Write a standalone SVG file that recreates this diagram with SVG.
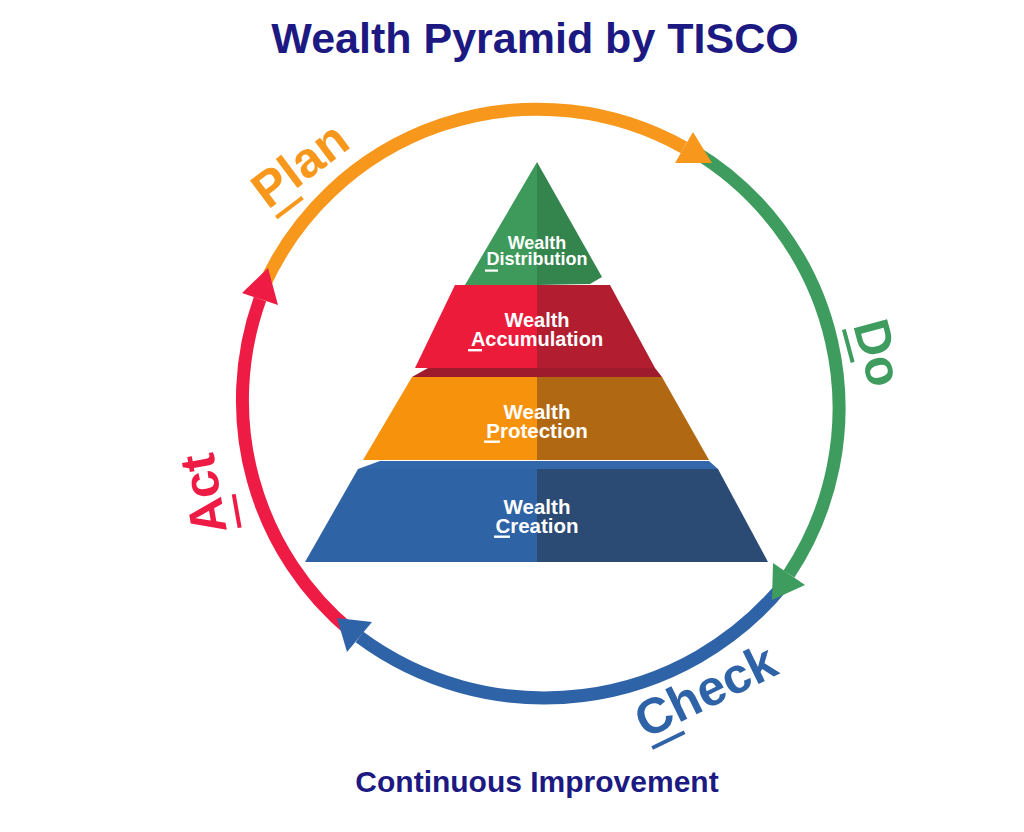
<svg xmlns="http://www.w3.org/2000/svg" width="1024" height="832" viewBox="0 0 1024 832">
<style>
.t{font-family:"Liberation Sans",Arial,Helvetica,sans-serif;font-weight:700}
.head{fill:#1c1a82;text-anchor:middle}
.tier{fill:#ffffff;text-anchor:middle}
.lbl{font-size:50px}
.arc{fill:none;stroke-width:13;stroke-linecap:butt}
.ul{fill:#ffffff}
</style>
<rect width="1024" height="832" fill="#ffffff"/>
<text id="title" class="t head" x="535" y="53" font-size="43">Wealth Pyramid by TISCO</text>
<text id="footer" class="t head" x="537" y="792" font-size="30">Continuous Improvement</text>

<g id="connectors">
  <path id="arc-plan" class="arc" stroke="#f7981d" d="M262,290 A300,300 0 0 1 684,147.5"/>
  <path id="arc-do" class="arc" stroke="#3d9c5e" d="M692,150 A300,300 0 0 1 789,574"/>
  <path id="arc-check" class="arc" stroke="#2f63a8" d="M785,583 A310,310 0 0 1 359.5,637"/>
  <path id="arc-act" class="arc" stroke="#ee1c45" d="M352,632 A300,300 0 0 1 260,299"/>
  <polygon id="head-plan" points="712,163 693,132 675,163" fill="#f7981d"/>
  <polygon id="head-do" points="772,600 773,563 805,585" fill="#3d9c5e"/>
  <polygon id="head-check" points="337,618 372,622 347,652" fill="#2f63a8"/>
  <polygon id="head-act" points="268,268 242,293 278,305" fill="#ee1c45"/>
</g>

<g id="tier-creation">
  <polygon points="358,469 380,461 709,461 718,469" fill="#3267a9"/>
  <polygon points="358,469 537,469 537,562 305,562" fill="#2e63a6"/>
  <polygon points="537,469 718,469 768,562 537,562" fill="#2b4a74"/>
  <text class="t tier" x="537" y="513.5" font-size="20.5">Wealth</text>
  <text class="t tier" x="537" y="532.5" font-size="20.5">Creation</text>
  <rect class="ul" x="494" y="535.5" width="16" height="2.4"/>
</g>

<g id="tier-protection">
  <polygon points="412,377 537,377 537,460 363,460" fill="#f7920c"/>
  <polygon points="537,377 662,377 709,460 537,460" fill="#b06812"/>
  <text class="t tier" x="537" y="419" font-size="20.5">Wealth</text>
  <text class="t tier" x="537" y="437.5" font-size="20.5">Protection</text>
  <rect class="ul" x="484" y="440.5" width="16" height="2.4"/>
</g>

<g id="tier-accumulation">
  <polygon points="412,377 428,368 655,368 662,377" fill="#9d1b2c"/>
  <polygon points="455,285 537,285 537,368 415,368" fill="#ec1b3a"/>
  <polygon points="537,285 610,285 655,368 537,368" fill="#b21d30"/>
  <text class="t tier" x="537" y="326.5" font-size="20">Wealth</text>
  <text class="t tier" x="537" y="345.5" font-size="20">Accumulation</text>
  <rect class="ul" x="468" y="349" width="14" height="2.4"/>
</g>

<g id="tier-distribution">
  <polygon points="537,162 465,285 537,285" fill="#3e9a5b"/>
  <polygon points="537,162 602,277 590,284 537,285" fill="#34844e"/>
  <text class="t tier" x="537" y="248.5" font-size="18">Wealth</text>
  <text class="t tier" x="537" y="265" font-size="18">Distribution</text>
  <rect class="ul" x="485" y="269.5" width="13" height="2.2"/>
</g>

<g id="label-plan" transform="translate(268,210) rotate(-37)">
  <text class="t lbl" x="0" y="0" fill="#f7981d">Plan</text>
  <rect x="2" y="9" width="33" height="4" fill="#f7981d"/>
</g>
<g id="label-do" transform="translate(853,325) rotate(75)">
  <text class="t lbl" x="0" y="0" fill="#3d9c5e">Do</text>
  <rect x="2" y="8" width="34" height="4" fill="#3d9c5e"/>
</g>
<g id="label-check" transform="translate(645.6,739) rotate(-26)">
  <text class="t lbl" x="0" y="0" fill="#2f63a8">Check</text>
  <rect x="2" y="9" width="36" height="4" fill="#2f63a8"/>
</g>
<g id="label-act" transform="translate(227,531) rotate(-100)">
  <text class="t lbl" x="0" y="0" font-size="48" fill="#ee1c45">Act</text>
  <rect x="1" y="11" width="34" height="4" fill="#ee1c45"/>
</g>
</svg>
